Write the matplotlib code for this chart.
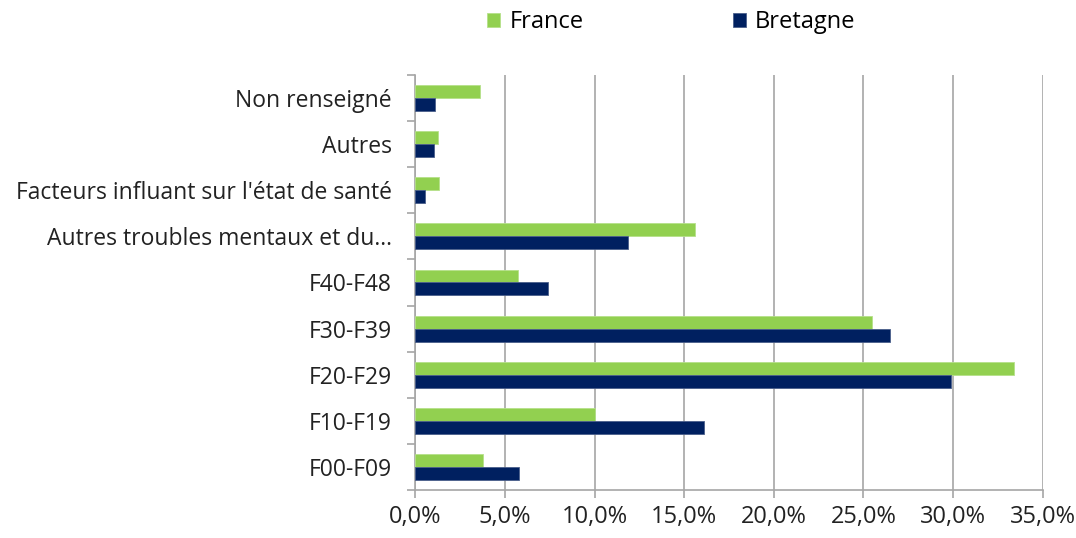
import matplotlib.pyplot as plt
import numpy as np
from matplotlib.ticker import FuncFormatter

plt.rcParams['font.family'] = ['Open Sans', 'DejaVu Sans']

categories = ["F00-F09", "F10-F19", "F20-F29", "F30-F39", "F40-F48",
              "Autres troubles mentaux et du...",
              "Facteurs influant sur l'état de santé", "Autres", "Non renseigné"]
france = [3.75, 10.05, 33.4, 25.5, 5.75, 15.6, 1.3, 1.25, 3.6]
bretagne = [5.8, 16.1, 29.9, 26.5, 7.4, 11.85, 0.53, 1.05, 1.1]

green = "#92D050"
navy = "#002060"
grey = "#A6A6A6"

fig = plt.figure(figsize=(10.76, 5.38), dpi=100)
ax = fig.add_axes([0.386, 0.089, 0.583, 0.772])

y = np.arange(len(categories))
h = 0.28
ax.barh(y + h / 2, france, height=h, color=green, edgecolor="#B5E08A", linewidth=0.6, label="France", zorder=3)
ax.barh(y - h / 2, bretagne, height=h, color=navy, edgecolor="#4A5E8A", linewidth=0.6, label="Bretagne", zorder=3)

ax.set_xlim(0, 35)
ax.set_ylim(-0.5, len(categories) - 0.5)
ax.set_xticks(np.arange(0, 36, 5))
ax.xaxis.set_major_formatter(FuncFormatter(lambda v, p: f"{v:.1f}%".replace(".", ",")))
ax.grid(axis="x", color=grey, linewidth=1.2, zorder=0)

ax.set_yticks(np.arange(-0.5, len(categories), 1))
ax.set_yticklabels([])
ax.set_yticks(y, minor=True)
ax.set_yticklabels(categories, minor=True)
ax.tick_params(axis="y", which="major", length=6, color=grey, width=1.2)
ax.tick_params(axis="y", which="minor", length=0, pad=17, labelsize=16.5, labelcolor="#222222")
ax.tick_params(axis="x", length=6, color=grey, width=1.2, labelsize=17, labelcolor="#222222", pad=5)

for s in ["top", "right"]:
    ax.spines[s].set_visible(False)
for s in ["left", "bottom"]:
    ax.spines[s].set_color(grey)
    ax.spines[s].set_linewidth(1.2)

fig.legend(loc="upper center", bbox_to_anchor=(0.624, 1.02), ncol=2, frameon=False,
           fontsize=17, handlelength=0.55, handleheight=0.55, handletextpad=0.4,
           columnspacing=6.3)

fig.savefig("out.png", dpi=100)
